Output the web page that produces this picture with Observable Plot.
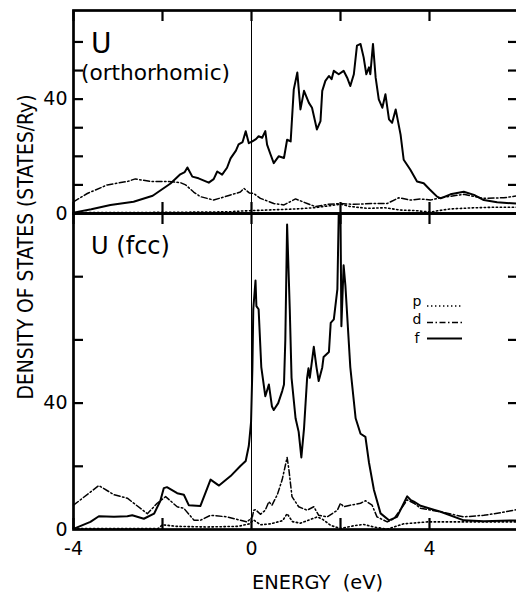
<!DOCTYPE html>
<html><head><meta charset="utf-8">
<script src="https://cdn.jsdelivr.net/npm/d3@7"></script>
<script src="https://cdn.jsdelivr.net/npm/@observablehq/plot@0.6"></script>
<style>
html,body{margin:0;padding:0;background:#fff;overflow:hidden}
#chart{position:relative;width:516px;height:595px;overflow:hidden;background:#fff}
#chart svg{position:absolute;left:0;top:0}
</style></head><body><div id="chart"></div>
<script>
// ---- data (energy in eV, DOS in states/Ry) ----
const orthoF = [[-4,0.3],[-3.6,1.5],[-3.17,3],[-2.65,4.1],[-2.22,6.2],[-1.82,10.5],[-1.6,13.7],[-1.5,14.5],[-1.44,16.1],[-1.33,12.9],[-1.19,12.3],[-0.96,10.8],[-0.85,12],[-0.77,14.7],[-0.66,13.6],[-0.55,16],[-0.47,19.3],[-0.35,22],[-0.29,24.2],[-0.2,25],[-0.13,28.8],[-0.06,24.6],[0.02,25.2],[0.1,26],[0.16,27],[0.24,26.5],[0.31,28.8],[0.35,24.1],[0.42,21],[0.5,17.6],[0.61,20],[0.73,19.4],[0.8,25.8],[0.88,25.2],[0.95,43.4],[1.03,49.3],[1.1,36.4],[1.18,42.9],[1.29,38.7],[1.36,37],[1.47,29.4],[1.55,32.3],[1.59,42.9],[1.66,46.4],[1.74,48.1],[1.8,47],[1.85,49.9],[1.96,48.7],[2.07,49.9],[2.15,47.5],[2.22,44.6],[2.3,48.7],[2.37,58.7],[2.45,59.3],[2.52,54.6],[2.58,48.7],[2.64,51.1],[2.67,48.7],[2.73,59.3],[2.79,47.5],[2.86,39.9],[2.94,37],[3.01,41.7],[3.09,32.9],[3.16,31.7],[3.24,36.4],[3.35,27.6],[3.42,18.8],[3.57,15.3],[3.72,11.2],[3.87,10.6],[4.0,8.5],[4.17,5.9],[4.25,5.3],[4.47,6.7],[4.77,7.6],[5.0,6.5],[5.22,4.7],[5.52,3.9],[6.0,3.4]];
const orthoD = [[-4,4.1],[-3.69,7],[-3.24,10],[-2.79,11.2],[-2.61,12.1],[-2.27,11.2],[-1.89,11.2],[-1.6,10.8],[-1.48,10],[-1.3,7.5],[-1.15,5.9],[-0.85,4.7],[-0.47,6.5],[-0.25,7.5],[-0.17,8.8],[-0.05,7.2],[0.05,7],[0.2,5.3],[0.5,3.5],[0.73,3],[0.99,5.1],[1.25,3.5],[1.44,2.4],[1.7,3.2],[2.0,3.5],[2.3,3.2],[2.75,3.5],[3.05,3.5],[3.31,5.5],[3.57,4.7],[3.8,5.1],[4.02,4.7],[4.25,5.5],[4.77,6.7],[5.22,5.3],[5.67,5.5],[6,6.2]];
const orthoP = [[-4,0.3],[-3,0.3],[-2,0.4],[-1,0.5],[-0.5,0.6],[-0.3,0.8],[0,1.0],[0.5,1.3],[1.0,1.6],[1.4,2.0],[1.8,2.8],[2.0,3.3],[2.2,2.5],[2.6,1.8],[3.0,2.0],[3.35,1.2],[3.7,1.0],[4.02,0.5],[4.2,1.0],[4.47,1.6],[5.0,2.0],[5.5,2.2],[6,2.2]];

const fccF = [[-4,0.2],[-3.62,2.4],[-3.43,4.2],[-3.09,4],[-2.79,4.2],[-2.68,4.5],[-2.42,3.4],[-2.19,5],[-2.05,9],[-1.97,13.1],[-1.9,13.4],[-1.67,11.5],[-1.52,11],[-1.41,7.7],[-1.15,7.4],[-0.92,15.8],[-0.73,13.9],[-0.47,16.9],[-0.25,20.1],[-0.13,21.7],[-0.06,26.5],[-0.01,34],[0.02,51],[0.04,69.7],[0.09,78.8],[0.11,70.7],[0.16,69.7],[0.22,51.4],[0.31,42.2],[0.35,44],[0.39,45.9],[0.46,38.9],[0.5,37.8],[0.6,40],[0.69,43.8],[0.73,45.9],[0.76,60],[0.8,96.5],[0.86,69.7],[0.9,48],[0.99,35.2],[1.06,30.9],[1.12,22.8],[1.18,31.9],[1.25,48],[1.28,51],[1.31,48],[1.4,57.8],[1.46,51.4],[1.51,47],[1.59,51.3],[1.62,54.6],[1.74,56.2],[1.78,65.4],[1.85,66.5],[1.93,76.1],[1.96,100],[2.0,100],[2.02,64.3],[2.07,83.6],[2.11,77.2],[2.22,51.4],[2.34,35.2],[2.45,30.3],[2.56,29.3],[2.64,21.2],[2.75,12.6],[2.9,5.1],[3.09,2.9],[3.27,4],[3.5,10.5],[3.58,9.3],[3.65,8.8],[3.8,7.5],[4.25,5.6],[4.77,2.9],[5.22,2.6],[6,2.9]];
const fccD = [[-4,7.7],[-3.43,13.9],[-3.09,11],[-2.79,9.9],[-2.34,5],[-2.12,8.3],[-1.93,10.4],[-1.67,7.2],[-1.52,6.7],[-1.29,2.9],[-1.15,2.9],[-0.92,4.5],[-0.55,4],[-0.1,2.4],[0.02,4],[0.05,6.1],[0.09,6.3],[0.2,4.8],[0.31,6.1],[0.39,8.8],[0.46,7.7],[0.58,11],[0.69,15.8],[0.8,22.8],[0.84,19],[0.91,10.4],[1.06,7.2],[1.25,6.1],[1.4,7.2],[1.51,4.5],[1.7,4],[1.93,6.1],[2.0,8.3],[2.07,7.2],[2.22,7.7],[2.45,8.3],[2.56,9.1],[2.71,7.7],[2.82,4],[3.05,2.4],[3.2,3.4],[3.42,7.7],[3.5,9.4],[3.65,8.3],[3.8,6.7],[4.25,5.6],[4.77,4],[5.22,4.5],[5.6,5.3],[6,6.4]];
const fccP = [[-4,0.3],[-2.1,0.3],[-2.0,1.5],[-1.7,1.0],[-1,0.8],[-0.3,1.0],[-0.05,1.8],[0.05,3.0],[0.2,1.5],[0.43,1.8],[0.7,2.8],[0.8,5],[0.92,2.5],[1.1,2.0],[1.48,4],[1.6,3.2],[1.78,1.3],[2.0,0.3],[2.3,1.2],[2.52,1.6],[2.75,0.8],[3.05,0.1],[3.2,0.8],[3.42,1.8],[3.95,2.4],[5,2.4],[6,2.4]];

const xDomain = [-4, 6];
const xTickValues = [-4, -2, 0, 2, 4];
const xLabelValues = [-4, 0, 4];
const orthoYDomain = [0, 71];
const fccYDomain = [0, 100];
const orthoYTicks = [10, 20, 30, 40, 50, 60];
const fccYTicks = [20, 40, 60, 80];
const yLabelValues = [0, 40];
const legendKeys = ["p", "d", "f"];
const titles = {ortho: ["U", "(orthorhomic)"], fcc: "U (fcc)"};
const xTitle = "ENERGY  (eV)";
const yTitle = "DENSITY OF STATES (STATES/Ry)";

// ---- styling ----
const FONT = '"DejaVu Sans", "Liberation Sans", sans-serif';
const W = 518, H = 595, ML = 73;
const lineStyle = {
  p: {strokeWidth: 1.6, strokeDasharray: "1.4,2.6"},
  d: {strokeWidth: 1.5, strokeDasharray: "6,2.5,1.5,2.5"},
  f: {strokeWidth: 2}
};

function panel({top, bottom, yDomain, yTicks, series, xLabels}) {
  const pw = W - ML, ph = bottom - top;
  const tk = {stroke: "#000", strokeWidth: 2.2};
  const marks = [
    Plot.ruleX([0], {stroke: "#000", strokeWidth: 1}),
    ...legendKeys.map(k => Plot.line(series[k], {x: d => d[0], y: d => d[1], stroke: "#000", ...lineStyle[k]})),
    Plot.frame({stroke: "#000", strokeWidth: 2.7}),
    Plot.tickY(yTicks, {y: d => d, insetRight: pw - 10, ...tk}),
    Plot.tickY(yTicks, {y: d => d, insetLeft: pw - 10, ...tk}),
    Plot.tickX(xTickValues, {x: d => d, insetBottom: ph - 11, ...tk}),
    Plot.tickX(xTickValues, {x: d => d, insetTop: ph - 11, ...tk}),
    Plot.axisY({ticks: yLabelValues, anchor: "left", tickSize: 0, tickPadding: 6, fontSize: 19, label: null, fill: "#000", tickFormat: d => String(d)})
  ];
  if (xLabels) marks.push(Plot.axisX({ticks: xLabelValues, anchor: "bottom", tickSize: 0, tickPadding: 12, fontSize: 19, label: null, fill: "#000", tickFormat: d => (d < 0 ? "-" : "") + Math.abs(d)}));
  return Plot.plot({
    width: W, height: H,
    marginTop: top, marginBottom: H - bottom, marginLeft: ML, marginRight: 0,
    x: {domain: xDomain, axis: null},
    y: {domain: yDomain, axis: null},
    style: {background: "transparent", maxWidth: "none", fontFamily: FONT},
    marks
  });
}

const chart = document.getElementById("chart");
chart.append(panel({top: 213, bottom: 529, yDomain: fccYDomain, yTicks: fccYTicks, series: {p: fccP, d: fccD, f: fccF}, xLabels: true}));
chart.append(panel({top: 10, bottom: 213, yDomain: orthoYDomain, yTicks: orthoYTicks, series: {p: orthoP, d: orthoD, f: orthoF}, xLabels: false}));

// ---- overlay texts and legend ----
const ov = d3.select(chart).append("svg").attr("width", 516).attr("height", 595)
  .style("font-family", FONT).style("overflow", "visible");
ov.append("text").attr("x", 91).attr("y", 53).attr("font-size", 28).text(titles.ortho[0]);
ov.append("text").attr("x", 81).attr("y", 80).attr("font-size", 21)
  .attr("textLength", 149).attr("lengthAdjust", "spacingAndGlyphs").text(titles.ortho[1]);
ov.append("text").attr("x", 91).attr("y", 254).attr("font-size", 25)
  .attr("textLength", 79).attr("lengthAdjust", "spacingAndGlyphs").text(titles.fcc);
ov.append("text").attr("x", 252).attr("y", 589).attr("font-size", 20)
  .attr("textLength", 131).attr("lengthAdjust", "spacingAndGlyphs").style("white-space", "pre").text(xTitle);
ov.append("text").attr("transform", "translate(33,247) rotate(-90)").attr("text-anchor", "middle")
  .attr("font-size", 21).attr("textLength", 305).attr("lengthAdjust", "spacingAndGlyphs").text(yTitle);
const legY = {p: [306, 306], d: [324, 322.5], f: [343, 338.5]};
legendKeys.forEach(k => {
  ov.append("text").attr("x", 417).attr("y", legY[k][0]).attr("font-size", 14).attr("text-anchor", "middle").text(k);
  ov.append("line").attr("x1", 427).attr("x2", 462).attr("y1", legY[k][1]).attr("y2", legY[k][1])
    .attr("stroke", "#000").attr("stroke-width", lineStyle[k].strokeWidth)
    .attr("stroke-dasharray", lineStyle[k].strokeDasharray || null);
});
</script></body></html>
